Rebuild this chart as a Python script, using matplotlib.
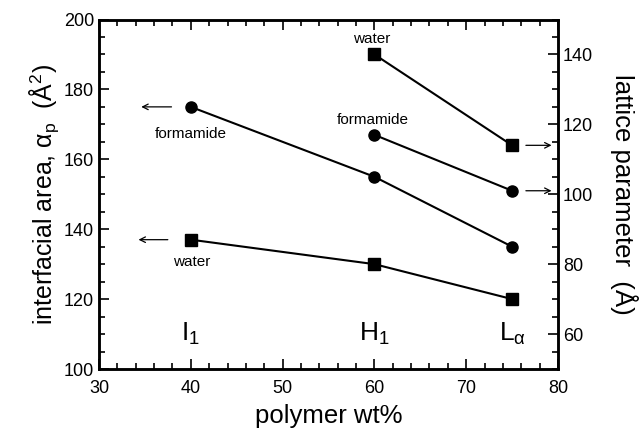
import matplotlib
matplotlib.use('Agg')
import matplotlib.pyplot as plt
from matplotlib.ticker import MultipleLocator

plt.rcParams['font.family'] = ['Liberation Sans', 'DejaVu Sans']
plt.rcParams['mathtext.fontset'] = 'custom'
plt.rcParams['mathtext.rm'] = 'Liberation Sans'
plt.rcParams['mathtext.it'] = 'Liberation Sans'

# data
wt_all = [40, 60, 75]
area_formamide = [175, 155, 135]
area_water = [137, 130, 120]
wt_lat = [60, 75]
lattice_water = [140, 114]
lattice_formamide = [117, 101]
phase_x = [40, 60, 75]
phase_labels = ['I$_1$', 'H$_1$', 'L$_\\alpha$']

fig = plt.figure(figsize=(6.42, 4.33), dpi=100)
ax = fig.add_axes([99/642, 1 - 369/433, (558-99)/642, (369-19.5)/433])
ax2 = ax.twinx()

ax.plot(wt_all, area_formamide, 'k-o', lw=1.5, ms=8)
ax.plot(wt_all, area_water, 'k-s', lw=1.5, ms=8)
ax2.plot(wt_lat, lattice_water, 'k-s', lw=1.5, ms=8)
ax2.plot(wt_lat, lattice_formamide, 'k-o', lw=1.5, ms=8)

ax.set_xlim(30, 80)
ax.set_ylim(100, 200)
ax2.set_ylim(50, 150)

ax.xaxis.set_major_locator(MultipleLocator(10))
ax.xaxis.set_minor_locator(MultipleLocator(2))
ax.yaxis.set_major_locator(MultipleLocator(20))
ax.yaxis.set_minor_locator(MultipleLocator(5))
ax2.yaxis.set_major_locator(MultipleLocator(20))
ax2.yaxis.set_minor_locator(MultipleLocator(5))
ax2.set_yticks([60, 80, 100, 120, 140])

ax.tick_params(which='both', direction='in', top=True, labelsize=13, width=1.2)
ax.tick_params(which='major', length=7)
ax.tick_params(which='minor', length=4)
ax.tick_params(axis='x', pad=8)
ax2.tick_params(which='both', direction='in', labelsize=13, width=1.2)
ax2.tick_params(which='major', length=7)
ax2.tick_params(which='minor', length=4)
for a in (ax, ax2):
    for s in a.spines.values():
        s.set_linewidth(1.8)

ax.set_xlabel('polymer wt%', fontsize=18.5, labelpad=5)
ax.set_ylabel('interfacial area, $\\alpha_p$  (Å$^2$)', fontsize=18, labelpad=2)
ax2.set_ylabel('lattice parameter  (Å)', fontsize=18.5, rotation=270, labelpad=32)

# arrows showing which axis each set belongs to
arr = dict(arrowstyle='->', color='k', lw=0.9)
ax.annotate('', xy=(34.3, area_formamide[0]), xytext=(38.2, area_formamide[0]), arrowprops=arr)
ax.annotate('', xy=(34.0, area_water[0]), xytext=(37.8, area_water[0]), arrowprops=arr)
ax2.annotate('', xy=(79.6, lattice_water[1]), xytext=(76.2, lattice_water[1]), arrowprops=arr)
ax2.annotate('', xy=(79.6, lattice_formamide[1]), xytext=(76.2, lattice_formamide[1]), arrowprops=arr)

ax.text(40, 167.2, 'formamide', fontsize=11, ha='center', va='center')
ax.text(40.1, 130.6, 'water', fontsize=11, ha='center', va='center')
ax2.text(59.7, 144.3, 'water', fontsize=11, ha='center', va='center')
ax2.text(59.85, 121.2, 'formamide', fontsize=11, ha='center', va='center')

for x, lab in zip(phase_x, phase_labels):
    ax.text(x, 110, lab, fontsize=19, ha='center', va='center')

fig.savefig('out.png', dpi=100)
